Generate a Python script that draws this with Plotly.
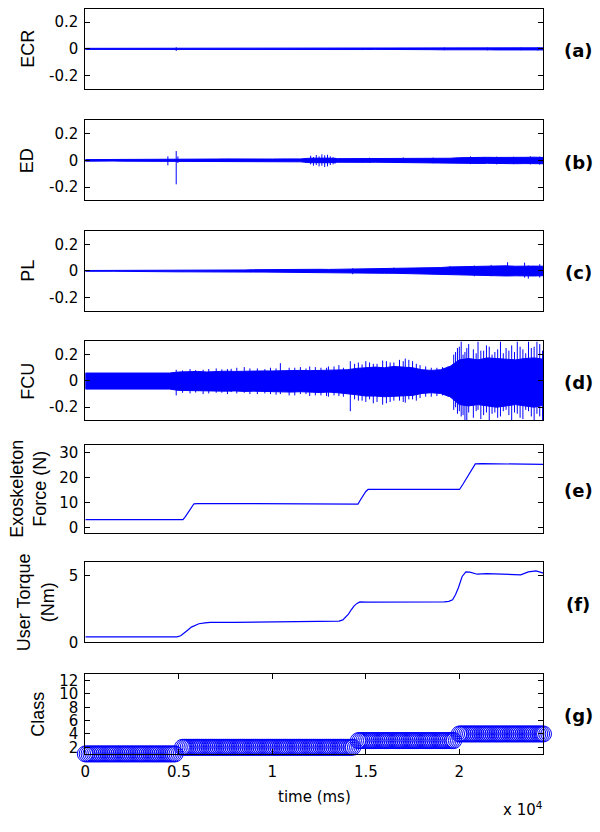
import plotly.graph_objects as go

# ---------------- data ----------------
# EMG envelope sample times (ms) – every 500 ms
emg_t = list(range(0, 24501, 500))

ecr_up = [0.004, 0.004, 0.003, 0.004, 0.004, 0.004, 0.003, 0.004, 0.004, 0.005,
          0.005, 0.004, 0.004, 0.005, 0.004, 0.004, 0.005, 0.004, 0.004, 0.005,
          0.004, 0.005, 0.004, 0.004, 0.005, 0.005, 0.004, 0.005, 0.005, 0.004,
          0.005, 0.005, 0.004, 0.005, 0.005, 0.006, 0.005, 0.005, 0.006, 0.007,
          0.008, 0.007, 0.007, 0.008, 0.007, 0.006, 0.007, 0.008, 0.007, 0.008]
ecr_lo = [-0.004, -0.004, -0.004, -0.003, -0.004, -0.004, -0.004, -0.004, -0.004, -0.005,
          -0.005, -0.004, -0.005, -0.004, -0.004, -0.005, -0.004, -0.004, -0.005, -0.004,
          -0.005, -0.004, -0.005, -0.005, -0.004, -0.005, -0.005, -0.004, -0.005, -0.005,
          -0.005, -0.004, -0.005, -0.005, -0.006, -0.005, -0.005, -0.006, -0.007, -0.008,
          -0.007, -0.008, -0.008, -0.007, -0.008, -0.007, -0.008, -0.007, -0.009, -0.008]
ecr_spk_t = [4860, 19200, 21500, 23300, 24200]
ecr_spk_hi = [0.012, 0.010, 0.009, 0.010, 0.010]
ecr_spk_lo = [-0.016, -0.010, -0.011, -0.010, -0.012]

ed_up = [0.006, 0.006, 0.005, 0.006, 0.006, 0.006, 0.005, 0.006, 0.006, 0.008,
         0.010, 0.010, 0.009, 0.010, 0.010, 0.011, 0.010, 0.010, 0.011, 0.010,
         0.010, 0.011, 0.010, 0.011, 0.016, 0.018, 0.017, 0.013, 0.013, 0.014,
         0.013, 0.015, 0.014, 0.015, 0.016, 0.014, 0.015, 0.016, 0.015, 0.016,
         0.020, 0.022, 0.021, 0.023, 0.022, 0.024, 0.025, 0.023, 0.024, 0.022]
ed_lo = [-0.006, -0.006, -0.006, -0.005, -0.006, -0.006, -0.006, -0.006, -0.006, -0.008,
         -0.010, -0.010, -0.010, -0.011, -0.010, -0.010, -0.011, -0.010, -0.010, -0.011,
         -0.010, -0.010, -0.011, -0.011, -0.017, -0.020, -0.018, -0.014, -0.014, -0.013,
         -0.015, -0.014, -0.015, -0.016, -0.015, -0.015, -0.016, -0.015, -0.016, -0.017,
         -0.021, -0.022, -0.023, -0.022, -0.024, -0.023, -0.025, -0.024, -0.023, -0.025]
ed_spk_t = [4414, 4860, 4950, 12050, 12200, 12350, 12500, 12650, 12800, 12950, 13100, 13250,
            13350, 15200, 17000, 18600, 20600, 21300, 22000, 22900, 23800, 24300]
ed_spk_hi = [0.030, 0.070, 0.030, 0.035, 0.025, 0.040, 0.030, 0.045, 0.038, 0.042, 0.030, 0.025,
             0.020, 0.020, 0.022, 0.021, 0.030, 0.026, 0.028, 0.027, 0.030, 0.028]
ed_spk_lo = [-0.037, -0.180, -0.020, -0.030, -0.040, -0.035, -0.045, -0.040, -0.050, -0.045, -0.035, -0.030,
             -0.025, -0.020, -0.020, -0.022, -0.028, -0.027, -0.030, -0.028, -0.030, -0.032]

pl_up = [0.003, 0.003, 0.003, 0.003, 0.003, 0.003, 0.003, 0.003, 0.003, 0.006,
         0.007, 0.006, 0.007, 0.008, 0.007, 0.007, 0.008, 0.007, 0.009, 0.010,
         0.009, 0.010, 0.011, 0.010, 0.011, 0.012, 0.011, 0.012, 0.015, 0.017,
         0.016, 0.018, 0.020, 0.019, 0.021, 0.020, 0.022, 0.021, 0.025, 0.030,
         0.032, 0.030, 0.035, 0.033, 0.036, 0.038, 0.035, 0.038, 0.036, 0.035]
pl_lo = [-0.003, -0.003, -0.003, -0.003, -0.003, -0.003, -0.003, -0.003, -0.003, -0.006,
         -0.007, -0.007, -0.006, -0.007, -0.008, -0.007, -0.007, -0.008, -0.009, -0.009,
         -0.010, -0.010, -0.010, -0.011, -0.011, -0.011, -0.012, -0.012, -0.014, -0.016,
         -0.015, -0.017, -0.018, -0.018, -0.019, -0.020, -0.019, -0.021, -0.026, -0.030,
         -0.032, -0.033, -0.034, -0.035, -0.036, -0.038, -0.037, -0.040, -0.038, -0.036]
pl_spk_t = [14300, 16500, 19500, 20800, 21700, 22580, 23490, 23690, 24300]
pl_spk_hi = [0.020, 0.025, 0.035, 0.040, 0.045, 0.065, 0.062, 0.040, 0.050]
pl_spk_lo = [-0.025, -0.020, -0.030, -0.040, -0.040, -0.035, -0.050, -0.058, -0.050]

fcu_up = [0.060, 0.060, 0.060, 0.060, 0.060, 0.060, 0.060, 0.060, 0.060, 0.060,
          0.068, 0.070, 0.072, 0.068, 0.072, 0.074, 0.072, 0.075, 0.074, 0.076,
          0.076, 0.078, 0.076, 0.080, 0.078, 0.080, 0.082, 0.080, 0.085, 0.095,
          0.100, 0.105, 0.100, 0.110, 0.105, 0.100, 0.085, 0.080, 0.085, 0.110,
          0.160, 0.170, 0.160, 0.175, 0.170, 0.165, 0.160, 0.170, 0.175, 0.165]
fcu_lo = [-0.062, -0.062, -0.062, -0.062, -0.062, -0.062, -0.062, -0.062, -0.062, -0.062,
          -0.072, -0.074, -0.076, -0.074, -0.076, -0.078, -0.076, -0.080, -0.078, -0.080,
          -0.080, -0.082, -0.085, -0.082, -0.085, -0.088, -0.085, -0.090, -0.095, -0.105,
          -0.115, -0.115, -0.120, -0.118, -0.115, -0.110, -0.095, -0.090, -0.095, -0.120,
          -0.180, -0.190, -0.180, -0.190, -0.200, -0.190, -0.180, -0.190, -0.200, -0.185]
fcu_spk_t = [4860, 5200, 5600, 5900, 6300, 6600, 7000, 7300, 7600, 7800, 8100, 8500, 8800,
             9200, 9600, 9900, 10200, 10430, 10900, 11200, 11500, 11800, 12000, 12300, 12600,
             12900, 13000, 13300, 13560, 13800, 14170, 14400, 14600, 14800, 15000, 15200,
             15400, 15600, 15900, 16100, 16300, 16500, 16800, 17000, 17110, 17300, 17500,
             17700, 17900, 18200, 18500, 18800, 19100, 19400, 19700, 19800, 19900, 20000,
             20100, 20200, 20300, 20400, 20500, 20750, 20900, 21000, 21150, 21300, 21450,
             21600, 21750, 21900, 22050, 22200, 22350, 22500, 22650, 22800, 22950, 23100,
             23250, 23400, 23550, 23700, 23850, 24000, 24150, 24300, 24450]
fcu_spk_hi = [0.085, 0.080, 0.090, 0.082, 0.085, 0.090, 0.095, 0.088, 0.090, 0.092, 0.100, 0.105, 0.095,
              0.095, 0.090, 0.100, 0.095, 0.135, 0.100, 0.100, 0.105, 0.095, 0.110, 0.105, 0.100,
              0.100, 0.110, 0.110, 0.120, 0.100, 0.150, 0.130, 0.140, 0.125, 0.150, 0.140,
              0.130, 0.130, 0.155, 0.150, 0.140, 0.140, 0.160, 0.150, 0.170, 0.160, 0.150,
              0.130, 0.120, 0.110, 0.100, 0.100, 0.105, 0.110, 0.200, 0.220, 0.250, 0.260,
              0.300, 0.200, 0.220, 0.250, 0.280, 0.240, 0.210, 0.300, 0.230, 0.230, 0.270,
              0.260, 0.200, 0.220, 0.240, 0.300, 0.210, 0.250, 0.230, 0.270, 0.220, 0.300,
              0.260, 0.240, 0.210, 0.300, 0.250, 0.260, 0.300, 0.280, 0.230]
fcu_spk_lo = [-0.110, -0.090, -0.095, -0.088, -0.100, -0.095, -0.090, -0.090, -0.100, -0.085, -0.095, -0.090, -0.100,
              -0.100, -0.095, -0.100, -0.105, -0.100, -0.110, -0.110, -0.100, -0.100, -0.115, -0.110, -0.110,
              -0.115, -0.120, -0.110, -0.115, -0.120, -0.230, -0.140, -0.150, -0.150, -0.160, -0.140,
              -0.170, -0.160, -0.180, -0.170, -0.160, -0.150, -0.150, -0.160, -0.165, -0.140, -0.140,
              -0.150, -0.130, -0.120, -0.120, -0.115, -0.110, -0.120, -0.220, -0.200, -0.250, -0.230,
              -0.270, -0.260, -0.300, -0.300, -0.240, -0.280, -0.230, -0.220, -0.290, -0.260, -0.240,
              -0.300, -0.250, -0.240, -0.280, -0.270, -0.230, -0.220, -0.260, -0.300, -0.240, -0.250,
              -0.280, -0.290, -0.220, -0.230, -0.270, -0.300, -0.250, -0.270, -0.300]

force_t = [0, 5220, 5350, 5500, 5650, 5810, 6000, 10000, 14580, 14700, 14850, 15000, 15120,
           15400, 19500, 20010, 20200, 20400, 20600, 20855, 21200, 24500]
force_v = [3.3, 3.3, 4.5, 6.2, 8.0, 9.6, 9.7, 9.6, 9.5, 11.0, 13.0, 14.5, 15.3,
           15.3, 15.3, 15.3, 17.5, 20.0, 22.8, 25.5, 25.6, 25.3]

torque_t = [0, 4900, 5100, 5265, 5470, 5670, 5870, 6075, 6400, 6680, 8000, 10000, 12000,
            13300, 13570, 13770, 13920, 14070, 14220, 14375, 14530, 14680, 15000, 17000,
            19200, 19440, 19640, 19800, 19950, 20150, 20350, 20560, 20960, 21460, 21900,
            22470, 22900, 23280, 23690, 24100, 24500]
torque_v = [0.42, 0.42, 0.50, 0.66, 0.92, 1.15, 1.30, 1.40, 1.47, 1.50, 1.50, 1.52, 1.55,
            1.57, 1.60, 1.69, 1.90, 2.13, 2.45, 2.74, 2.93, 3.04, 3.02, 3.02,
            3.04, 3.08, 3.20, 3.60, 4.10, 4.95, 5.30, 5.27, 5.12, 5.17, 5.15,
            5.15, 5.10, 5.07, 5.30, 5.37, 5.20]

# class labels: run-length segments (start ms, end ms, class), sampled every 100 ms
class_start = [0, 5200, 14600, 20000]
class_end = [4800, 14300, 19700, 24500]
class_label = [1, 2, 3, 4]
class_step = 100

x_tickvals = [0, 5000, 10000, 15000, 20000]
x_ticktext = ["0", "0.5", "1", "1.5", "2"]
panel_names = ["ECR", "ED", "PL", "FCU", "Exoskeleton<br>Force (N)", "User Torque<br>(Nm)", "Class"]
panel_tags = ["(a)", "(b)", "(c)", "(d)", "(e)", "(f)", "(g)"]

# ---------------- layout geometry (pixels) ----------------
W, H = 600, 832
X0, X1 = 81, 543
panels = [(7, 88), (120, 201), (232, 313), (344, 424), (449, 538), (568, 649), (681, 762)]
BLUE = "rgb(0,0,255)"
TICKFONT = dict(family="DejaVu Sans", size=15, color="black")
XMAX = 24500

fig = go.Figure()


def band(i, up, lo, st, shi, slo):
    xs = emg_t + emg_t[::-1] + [emg_t[0]]
    ys = up + lo[::-1] + [up[0]]
    fig.add_trace(go.Scatter(x=xs, y=ys, mode="lines", fill="toself", fillcolor=BLUE,
                             line=dict(color=BLUE, width=1), xaxis=f"x{i}", yaxis=f"y{i}",
                             hoverinfo="skip"))
    sx, sy = [], []
    for t, h, l in zip(st, shi, slo):
        sx += [t, t, None]
        sy += [l, h, None]
    fig.add_trace(go.Scatter(x=sx, y=sy, mode="lines", line=dict(color=BLUE, width=1),
                             xaxis=f"x{i}", yaxis=f"y{i}", hoverinfo="skip"))


band(1, ecr_up, ecr_lo, ecr_spk_t, ecr_spk_hi, ecr_spk_lo)
band(2, ed_up, ed_lo, ed_spk_t, ed_spk_hi, ed_spk_lo)
band(3, pl_up, pl_lo, pl_spk_t, pl_spk_hi, pl_spk_lo)
band(4, fcu_up, fcu_lo, fcu_spk_t, fcu_spk_hi, fcu_spk_lo)

fig.add_trace(go.Scatter(x=force_t, y=force_v, mode="lines", line=dict(color=BLUE, width=1.2),
                         xaxis="x5", yaxis="y5"))
fig.add_trace(go.Scatter(x=torque_t, y=torque_v, mode="lines", line=dict(color=BLUE, width=1.2),
                         xaxis="x6", yaxis="y6"))

cx, cy = [], []
for s, e, c in zip(class_start, class_end, class_label):
    for t in range(s, e + 1, class_step):
        cx.append(t)
        cy.append(c)
fig.add_trace(go.Scatter(x=cx, y=cy, mode="markers", cliponaxis=False,
                         marker=dict(symbol="circle-open", size=16, color=BLUE, line=dict(width=1)),
                         xaxis="x7", yaxis="y7"))

yranges = [[-0.3, 0.3]] * 4 + [[-2, 33], [0, 6], [1, 13]]
ytickvals = [[-0.2, 0, 0.2]] * 4 + [[0, 10, 20, 30], [0, 5], [2, 4, 6, 8, 10, 12]]
yticktext = [["-0.2", "0", "0.2"]] * 4 + [None, None, None]

layout = dict(width=W, height=H, margin=dict(l=0, r=0, t=0, b=0),
              paper_bgcolor="white", plot_bgcolor="white", showlegend=False)
annotations = []
for k, (top, bot) in enumerate(panels):
    i = k + 1
    ydom = [1 - bot / H, 1 - top / H]
    xa = dict(domain=[X0 / W, X1 / W], range=[0, XMAX], anchor=f"y{i}", showgrid=False,
              zeroline=False, showline=True, linecolor="black", linewidth=1, mirror=True)
    if i == 7:
        xa.update(ticks="inside", ticklen=5, tickcolor="black", mirror="ticks",
                  tickvals=x_tickvals, ticktext=x_ticktext, tickfont=TICKFONT,
                  ticklabelstandoff=4)
    else:
        xa.update(showticklabels=False, ticks="")
    ya = dict(domain=ydom, range=yranges[k], anchor=f"x{i}", showgrid=False, zeroline=False,
              showline=True, linecolor="black", linewidth=1, mirror="ticks", ticks="inside",
              ticklen=5, tickcolor="black", tickvals=ytickvals[k], tickfont=TICKFONT,
              ticklabelstandoff=3)
    if yticktext[k] is not None:
        ya["ticktext"] = yticktext[k]
    layout[f"xaxis{i}"] = xa
    layout[f"yaxis{i}"] = ya

title_x = [23, 23, 23, 23, 24, 31, 33]
for k, (top, bot) in enumerate(panels):
    yc = (top + bot) / 2
    annotations.append(dict(text=panel_names[k], xref="paper", yref="paper",
                            x=title_x[k] / W, y=1 - yc / H, xanchor="center", yanchor="middle",
                            textangle=-90, showarrow=False,
                            font=dict(family="Liberation Sans", size=18, color="black")))
    annotations.append(dict(text=panel_tags[k], xref="paper", yref="paper",
                            x=578 / W, y=1 - (yc + 2) / H, xanchor="center", yanchor="middle",
                            showarrow=False,
                            font=dict(family="DejaVu Sans", size=18, color="black", weight="bold")))

annotations.append(dict(text="time (ms)", xref="paper", yref="paper", x=(X0 + X1) / 2 / W,
                        y=1 - 806 / H, xanchor="center", yanchor="middle", showarrow=False,
                        font=dict(family="DejaVu Sans", size=15, color="black")))
annotations.append(dict(text="x 10<sup>4</sup>", xref="paper", yref="paper", x=545 / W,
                        y=1 - 818 / H, xanchor="right", yanchor="middle", showarrow=False,
                        font=dict(family="DejaVu Sans", size=15, color="black")))
layout["annotations"] = annotations
fig.update_layout(**layout)

fig.write_html("out.html", config={"displayModeBar": False},
               post_script="document.body.style.margin='0px';")
